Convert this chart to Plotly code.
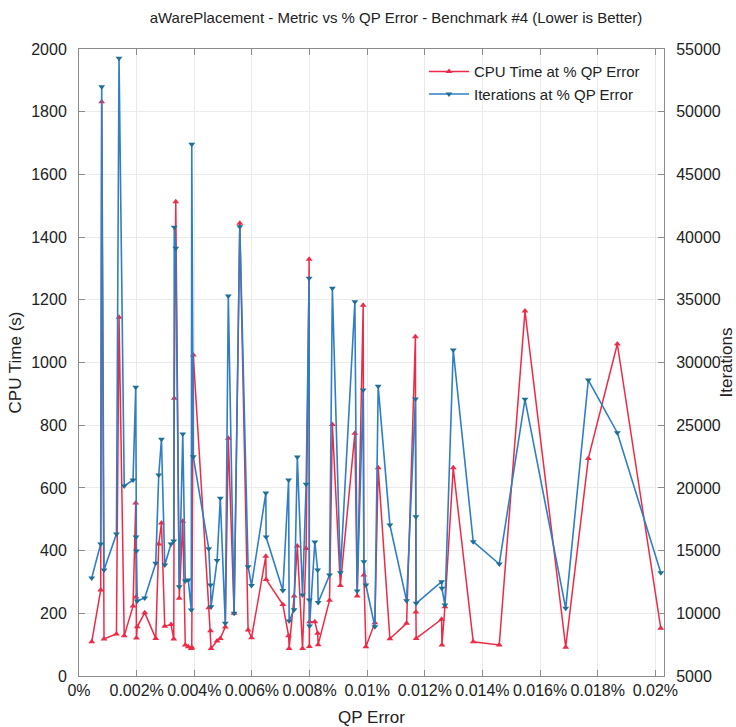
import plotly.graph_objects as go

# % QP error (x) for each run
qp_error = [0.000441, 0.000753, 0.000788, 0.000868, 0.001299, 0.001389, 0.001569, 0.001875, 0.001969, 0.001979,
            0.001993, 0.002021, 0.002281, 0.002663, 0.002767, 0.002861, 0.002976, 0.003194, 0.003288, 0.003306,
            0.003358, 0.003479, 0.003601, 0.003688, 0.003792, 0.003896, 0.003913, 0.003965, 0.004503, 0.004563,
            0.004583, 0.004792, 0.004903, 0.005076, 0.005181, 0.005382, 0.00558, 0.005868, 0.005986, 0.006483,
            0.006493, 0.007073, 0.007274, 0.007292, 0.007465, 0.007576, 0.007757, 0.007882, 0.007986, 0.007993,
            0.008, 0.008184, 0.008281, 0.008299, 0.008694, 0.008792, 0.009069, 0.009573, 0.009653, 0.009861,
            0.009885, 0.009955, 0.010267, 0.010382, 0.010788, 0.011368, 0.011674, 0.011691, 0.011701, 0.012583,
            0.012594, 0.012698, 0.012986, 0.01368, 0.014583, 0.015476, 0.016889, 0.017674, 0.01868, 0.020188]

cpu_time = [109, 274, 1832, 118, 134, 1144, 128, 223, 552, 252,
            121, 157, 202, 120, 421, 488, 159, 164, 118, 886,
            1513, 248, 494, 99, 93, 88, 92, 1024, 218, 144,
            88, 112, 120, 156, 758, 200, 1444, 147, 122, 382,
            308, 228, 128, 88, 255, 415, 88, 407, 1329, 94,
            173, 173, 136, 100, 242, 802, 289, 774, 255, 1183,
            322, 93, 170, 664, 119, 168, 1082, 204, 120, 181,
            99, 221, 664, 109, 99, 1164, 92, 694, 1059, 152]

iterations = [12815, 15526, 51991, 13452, 16323, 54255, 20151, 20629, 28021, 16084,
              14968, 10981, 11220, 13987, 21028, 23874, 13851, 15526, 15765, 40779,
              39105, 12121, 24297, 12575, 12655, 10263, 47398, 22487, 15151, 12256,
              10526, 14210, 19170, 9202, 35301, 10000, 40827, 13716, 12216, 19592,
              16084, 11818, 20629, 9386, 10287, 22463, 11459, 20286, 36713, 11060,
              8987, 15685, 13452, 10861, 13054, 35915, 13237, 34847, 11778, 27806,
              14114, 12256, 8931, 28101, 17041, 10996, 27088, 17703, 10797, 12520,
              11993, 10662, 30995, 15709, 13931, 27064, 10398, 28603, 24401, 13237]

x_tickvals = [0, 0.002, 0.004, 0.006, 0.008, 0.01, 0.012, 0.014, 0.016, 0.018, 0.02]
x_ticktext = ["0%", "0.002%", "0.004%", "0.006%", "0.008%", "0.01%", "0.012%", "0.014%", "0.016%", "0.018%", "0.02%"]

FONT = "Liberation Sans, Arial, sans-serif"
RED = "#ee2a46"
BLUE = "#2f7ec6"
BLUE_MK = "#1f6e96"
AXIS = "#8c8c8c"
GRID = "#ebebeb"
TXT = "#222222"

fig = go.Figure()
fig.add_trace(go.Scatter(
    x=qp_error, y=cpu_time, name="CPU Time at % QP Error", mode="lines+markers",
    line=dict(color=RED, width=1.5),
    marker=dict(symbol="triangle-up", size=6, color=RED),
    yaxis="y"))
fig.add_trace(go.Scatter(
    x=qp_error, y=iterations, name="Iterations at % QP Error", mode="lines+markers",
    line=dict(color=BLUE, width=1.6),
    marker=dict(symbol="triangle-down", size=6, color=BLUE_MK),
    yaxis="y2"))

fig.update_layout(
    width=736, height=727,
    margin=dict(l=79, r=72, t=49, b=51, autoexpand=False),
    paper_bgcolor="white", plot_bgcolor="white",
    font=dict(family=FONT, size=16, color=TXT),
    title=dict(text="aWarePlacement - Metric vs % QP Error - Benchmark #4 (Lower is Better)",
               x=0.538, xanchor="center", y=0.975, yanchor="middle",
               font=dict(family=FONT, size=15, color=TXT)),
    xaxis=dict(range=[0, 0.0203], tickvals=x_tickvals, ticktext=x_ticktext,
               showgrid=True, gridcolor=GRID, zeroline=False,
               showline=True, linecolor=AXIS, linewidth=1, mirror="ticks",
               ticks="inside", ticklen=6, tickcolor=AXIS,
               title=dict(text="QP Error", standoff=13, font=dict(size=17)), automargin=False),
    yaxis=dict(range=[0, 2000], dtick=200, showgrid=True, gridcolor=GRID, zeroline=False,
               showline=True, linecolor=AXIS, linewidth=1,
               ticks="inside", ticklen=6, tickcolor=AXIS, ticklabelstandoff=8,
               title=dict(text="CPU Time (s)", standoff=5, font=dict(size=17)), automargin=False),
    yaxis2=dict(range=[5000, 55000], dtick=5000, tickformat="d", overlaying="y", side="right",
                showgrid=False, zeroline=False,
                showline=True, linecolor=AXIS, linewidth=1,
                ticks="inside", ticklen=6, tickcolor=AXIS, ticklabelstandoff=8,
                title=dict(text="Iterations", standoff=20, font=dict(size=17)), automargin=False),
    legend=dict(x=0.9675, xanchor="right", y=0.99, yanchor="top",
                bgcolor="rgba(255,255,255,0)", font=dict(size=15),
                itemwidth=40, tracegroupgap=0),
)

fig.write_html("out.html")
